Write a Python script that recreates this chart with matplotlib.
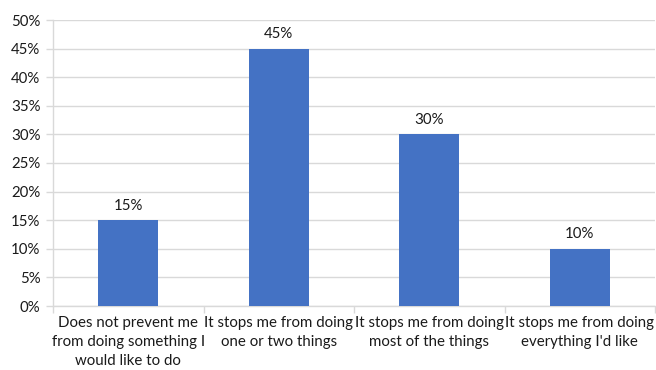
import numpy as np
import matplotlib.pyplot as plt
from matplotlib.ticker import FixedLocator, PercentFormatter

plt.rcParams['font.family'] = ['Lato', 'DejaVu Sans']

categories = ["Does not prevent me\nfrom doing something I\nwould like to do",
              "It stops me from doing\none or two things",
              "It stops me from doing\nmost of the things",
              "It stops me from doing\neverything I'd like"]
values = [15, 45, 30, 10]
bar_color = '#4472C4'
grid_color = '#D9D9D9'
text_color = '#1A1A1A'

fig = plt.figure(figsize=(6.56, 3.70), dpi=100)
ax = fig.add_axes([53 / 656, 1 - 306 / 370, 602 / 656, 286 / 370])

x = np.arange(len(categories))
bars = ax.bar(x, values, width=0.4, color=bar_color, zorder=3)
for xi, v in zip(x, values):
    ax.annotate(f"{v}%", (xi, v), xytext=(0, 5.5), textcoords='offset points',
                ha='center', va='bottom', fontsize=10.8, color=text_color)

ax.set_xlim(-0.5, len(categories) - 0.5)
ax.set_ylim(0, 50)
ax.set_yticks(np.arange(0, 51, 5))
ax.yaxis.set_major_formatter(PercentFormatter(decimals=0))
ax.set_xticks(x)
ax.set_xticklabels(categories, fontsize=10.8, linespacing=1.45, color=text_color)
ax.xaxis.set_minor_locator(FixedLocator(np.arange(-0.5, len(categories), 1.0)))
ax.tick_params(axis='x', which='major', length=0, pad=7)
ax.tick_params(axis='x', which='minor', length=5, color=grid_color, width=1)
ax.tick_params(axis='y', length=5, color=grid_color, width=1, labelsize=10.8,
               labelcolor=text_color, pad=4)

ax.grid(axis='y', color=grid_color, linewidth=1, zorder=0)
for s in ['top', 'right']:
    ax.spines[s].set_visible(False)
for s in ['left', 'bottom']:
    ax.spines[s].set_color(grid_color)
    ax.spines[s].set_linewidth(1)

fig.savefig('out.png', dpi=100)
